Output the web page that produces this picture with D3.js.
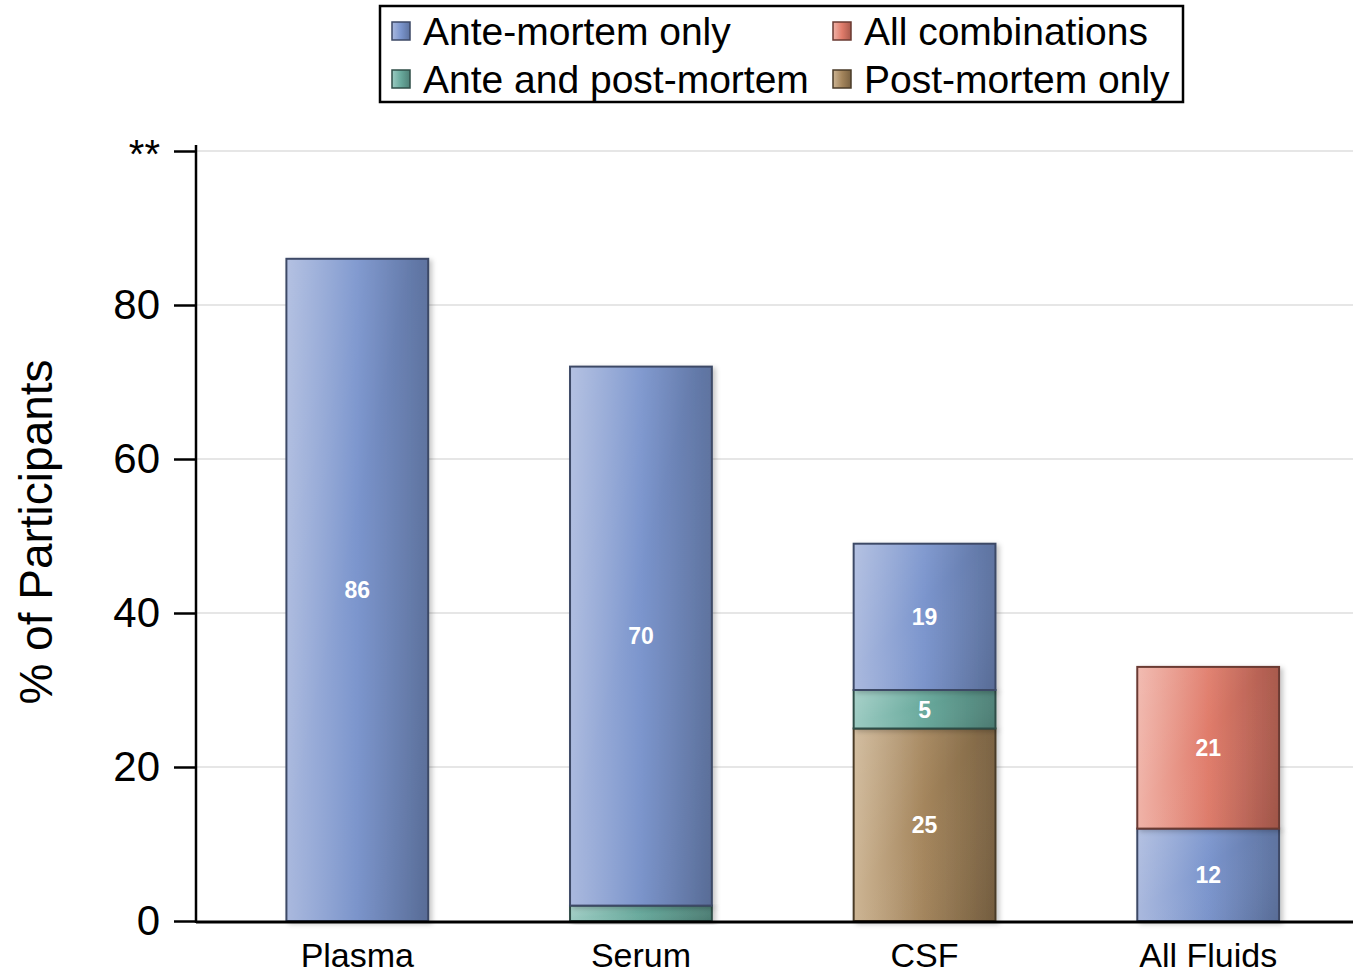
<!DOCTYPE html>
<html><head><meta charset="utf-8">
<script src="https://cdn.jsdelivr.net/npm/d3@7"></script>
<style>body{margin:0;background:#fff}svg{display:block;font-family:"Liberation Sans",Arial,sans-serif}</style>
</head><body>
<svg id="c" width="1353" height="975"></svg>
<script>
const categories = ["Plasma", "Serum", "CSF", "All Fluids"];
const seriesNames = ["Post-mortem only", "Ante and post-mortem", "Ante-mortem only", "All combinations"];
const postMortemOnly   = [0, 0, 25, 0];
const anteAndPost      = [0, 2, 5, 0];
const anteMortemOnly   = [86, 70, 19, 12];
const allCombinations  = [0, 0, 0, 21];
const yTicks = [0, 20, 40, 60, 80, 100];
const yTickLabels = ["0", "20", "40", "60", "80", "**"];
const legendOrder = ["Ante-mortem only", "All combinations", "Ante and post-mortem", "Post-mortem only"];

const colors = {
  "Ante-mortem only": ["#aab9de", "#7b95cd", "#5d729f"],
  "Ante and post-mortem": ["#9ccbc2", "#68a99c", "#4f8177"],
  "Post-mortem only": ["#cdb594", "#a4855c", "#7a6242"],
  "All combinations": ["#f0b3a8", "#e07c6b", "#a8594c"]
};
const strokeCols = {
  "Ante-mortem only": "#3c4866",
  "Ante and post-mortem": "#2f4d47",
  "Post-mortem only": "#4a3b28",
  "All combinations": "#6a3a32"
};

const rows = categories.map((c, i) => ({
  cat: c,
  "Post-mortem only": postMortemOnly[i],
  "Ante and post-mortem": anteAndPost[i],
  "Ante-mortem only": anteMortemOnly[i],
  "All combinations": allCombinations[i]
}));

const svg = d3.select("#c");
const x = d3.scaleBand().domain(categories).range([215.5, 1350]).paddingInner(0.5).paddingOuter(0.25);
const y = d3.scaleLinear().domain([0, 100]).range([921, 151]);

const defs = svg.append("defs");
Object.entries(colors).forEach(([k, c], i) => {
  const g = defs.append("linearGradient").attr("id", "g" + i).attr("x1", 0).attr("x2", 1).attr("y1", 0).attr("y2", 0);
  g.append("stop").attr("offset", "0%").attr("stop-color", c[0]);
  g.append("stop").attr("offset", "50%").attr("stop-color", c[1]);
  g.append("stop").attr("offset", "100%").attr("stop-color", c[2]);
});
const ov = defs.append("linearGradient").attr("id", "ov").attr("x1", 0).attr("x2", 1).attr("y1", 0).attr("y2", 1);
ov.append("stop").attr("offset", "0%").attr("stop-color", "#fff").attr("stop-opacity", 0.12);
ov.append("stop").attr("offset", "45%").attr("stop-color", "#fff").attr("stop-opacity", 0.0);
ov.append("stop").attr("offset", "100%").attr("stop-color", "#000").attr("stop-opacity", 0.06);
const gradId = k => "g" + Object.keys(colors).indexOf(k);
const f = defs.append("filter").attr("id", "sh").attr("x", "-10%").attr("y", "-10%").attr("width", "130%").attr("height", "130%");
f.append("feDropShadow").attr("dx", 3).attr("dy", 2).attr("stdDeviation", 2.5).attr("flood-color", "#000").attr("flood-opacity", 0.22);

// gridlines
svg.append("g").selectAll("line").data(yTicks.filter(t => t > 0)).join("line")
  .attr("x1", 196).attr("x2", 1353).attr("y1", d => y(d)).attr("y2", d => y(d))
  .attr("stroke", "#e6e6e6").attr("stroke-width", 2);

// bars
const stack = d3.stack().keys(seriesNames);
const stacked = stack(rows);
const gBars = svg.append("g");
stacked.forEach(layer => {
  const key = layer.key;
  layer.forEach((d, i) => {
    if (d[1] - d[0] <= 0) return;
    const cat = categories[i];
    gBars.append("rect")
      .attr("x", x(cat)).attr("width", x.bandwidth())
      .attr("y", y(d[1])).attr("height", y(d[0]) - y(d[1]))
      .attr("fill", `url(#${gradId(key)})`)
      .attr("stroke", strokeCols[key]).attr("stroke-width", 2)
      .attr("filter", "url(#sh)");
    gBars.append("rect")
      .attr("x", x(cat) + 1).attr("width", x.bandwidth() - 2)
      .attr("y", y(d[1]) + 1).attr("height", Math.max(0, y(d[0]) - y(d[1]) - 2))
      .attr("fill", "url(#ov)");
  });
});
// labels
stacked.forEach(layer => {
  layer.forEach((d, i) => {
    const v = d[1] - d[0];
    if (v < 4) return;
    svg.append("text")
      .attr("x", x(categories[i]) + x.bandwidth() / 2)
      .attr("y", (y(d[0]) + y(d[1])) / 2)
      .attr("dy", "0.36em").attr("text-anchor", "middle")
      .attr("fill", "#fff").attr("font-weight", "bold").attr("font-size", 23)
      .text(v);
  });
});

// y axis
const yAxis = d3.axisLeft(y).tickValues(yTicks).tickSize(22).tickPadding(14)
  .tickFormat((d, i) => yTickLabels[i]);
const ga = svg.append("g").attr("transform", "translate(196,0)").call(yAxis);
ga.select(".domain").attr("d", `M0,${y(100) - 6}V${y(0) + 2}`).attr("stroke", "#000").attr("stroke-width", 2.5);
ga.selectAll(".tick line").attr("stroke", "#000").attr("stroke-width", 2.5);
ga.selectAll(".tick text").attr("font-size", 42).attr("fill", "#000")
  .attr("font-family", '"Liberation Sans",Arial,sans-serif');
ga.selectAll(".tick").filter(d => d === 100).select("text").attr("dy", "0.4em").attr("font-size", 40);

// x axis
const xAxis = d3.axisBottom(x).tickSize(0).tickPadding(21);
const gx = svg.append("g").attr("transform", `translate(0,${y(0) + 1})`).call(xAxis);
gx.select(".domain").attr("d", "M196,0H1353").attr("stroke", "#000").attr("stroke-width", 3);
gx.selectAll(".tick text").attr("font-size", 34).attr("fill", "#000")
  .attr("font-family", '"Liberation Sans",Arial,sans-serif');

// y title
svg.append("text").attr("transform", "translate(52,532) rotate(-90)")
  .attr("text-anchor", "middle").attr("font-size", 46).attr("fill", "#000")
  .text("% of Participants");

// legend
const lg = svg.append("g");
lg.append("rect").attr("x", 380).attr("y", 6).attr("width", 803).attr("height", 96)
  .attr("fill", "#fff").attr("stroke", "#000").attr("stroke-width", 2.5);
legendOrder.forEach((k, i) => {
  const col = i % 2, row = Math.floor(i / 2);
  const lx = col === 0 ? 392 : 833, ly = row === 0 ? 31 : 79;
  lg.append("rect").attr("x", lx).attr("y", ly - 9).attr("width", 18).attr("height", 18)
    .attr("fill", `url(#${gradId(k)})`).attr("stroke", strokeCols[k]).attr("stroke-width", 1.5);
  lg.append("text").attr("x", lx + 31).attr("y", ly).attr("dy", "0.36em")
    .attr("font-size", 39).attr("fill", "#000").text(k);
});
</script>
</body></html>
